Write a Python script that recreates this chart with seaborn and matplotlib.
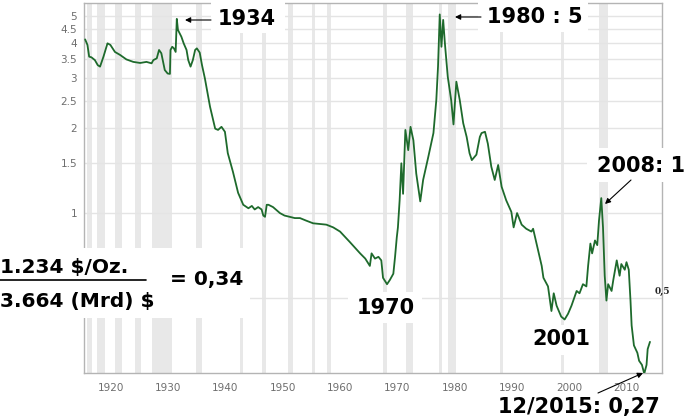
import matplotlib

matplotlib.use("Agg")

import matplotlib.pyplot as plt
import seaborn as sns
from matplotlib.patches import FancyArrowPatch, Rectangle
from matplotlib.ticker import FixedLocator, NullLocator

# gold price / money ratio
years = [
    1915.5, 1915.9, 1916.2, 1916.6, 1917.2, 1917.7, 1918.1, 1918.7, 1919.4, 1919.9,
    1920.7, 1921.6, 1922.7, 1923.9, 1925.1, 1926.2, 1927.1, 1927.4, 1928.0, 1928.4,
    1928.8, 1929.1, 1929.4, 1929.9, 1930.3, 1930.4, 1930.7, 1931.0, 1931.3, 1931.5,
    1931.7, 1932.3, 1932.7, 1933.2, 1933.5, 1933.9, 1934.3, 1934.7, 1935.0, 1935.5,
    1935.9, 1936.4, 1937.3, 1938.2, 1938.7, 1939.3, 1939.9, 1940.4, 1941.3, 1942.2,
    1943.1, 1944.0, 1944.6, 1945.1, 1945.7, 1946.3, 1946.6, 1946.9, 1947.2, 1947.5,
    1948.3, 1949.5, 1950.3, 1951.2, 1952.1, 1953.0, 1954.1, 1955.3, 1956.5, 1957.6,
    1958.8, 1960.0, 1961.7, 1963.5, 1964.4, 1965.2, 1965.5, 1966.1, 1966.7, 1967.2,
    1967.5, 1968.2, 1968.7, 1969.3, 1969.6, 1969.9, 1970.1, 1970.4, 1970.7, 1971.0,
    1971.4, 1971.9, 1972.3, 1972.8, 1973.3, 1974.0, 1974.5, 1975.4, 1976.3, 1976.8,
    1977.1, 1977.4, 1977.7, 1978.0, 1978.3, 1978.8, 1979.4, 1979.8, 1980.3, 1980.9,
    1981.5, 1982.1, 1982.6, 1983.0, 1983.8, 1984.4, 1984.7, 1985.3, 1985.8, 1986.4,
    1987.0, 1987.6, 1988.2, 1989.0, 1989.9, 1990.3, 1990.9, 1991.7, 1992.5, 1993.4,
    1993.7, 1994.3, 1995.2, 1995.5, 1996.3, 1996.9, 1997.3, 1997.8, 1998.6, 1999.2,
    1999.8, 2000.4, 2001.3, 2001.8, 2002.4, 2003.0, 2003.3, 2003.7, 2004.0, 2004.5,
    2004.9, 2005.2, 2005.6, 2005.9, 2006.2, 2006.5, 2006.8, 2007.4, 2007.7, 2008.3,
    2008.8, 2009.1, 2009.7, 2010.0, 2010.4, 2010.7, 2010.9, 2011.3, 2011.9, 2012.2,
    2012.7, 2013.1, 2013.5, 2013.7, 2014.1,
]
ratio = [
    4.12, 3.94, 3.58, 3.56, 3.48, 3.34, 3.30, 3.58, 3.99, 3.94,
    3.72, 3.63, 3.50, 3.43, 3.40, 3.43, 3.39, 3.48, 3.53, 3.78,
    3.68, 3.43, 3.21, 3.12, 3.11, 3.78, 3.88, 3.83, 3.72, 4.87,
    4.45, 4.21, 3.99, 3.78, 3.48, 3.30, 3.48, 3.78, 3.83, 3.70,
    3.34, 3.00, 2.38, 1.99, 1.97, 2.02, 1.94, 1.63, 1.40, 1.18,
    1.07, 1.04, 1.06, 1.03, 1.05, 1.03, 0.98, 0.97, 1.07, 1.07,
    1.05, 1.00, 0.98, 0.97, 0.96, 0.96, 0.94, 0.92, 0.915, 0.91,
    0.89, 0.86, 0.79, 0.72, 0.69, 0.65, 0.72, 0.69, 0.70, 0.68,
    0.59, 0.56, 0.58, 0.61, 0.70, 0.82, 0.89, 1.11, 1.50, 1.17,
    1.97, 1.67, 2.02, 1.81, 1.38, 1.10, 1.31, 1.58, 1.92, 2.51,
    3.30, 5.05, 3.88, 4.83, 3.99, 3.04, 2.51, 2.06, 2.92, 2.51,
    2.08, 1.86, 1.63, 1.54, 1.61, 1.86, 1.92, 1.94, 1.76, 1.46,
    1.31, 1.48, 1.24, 1.11, 1.01, 0.89, 1.00, 0.91, 0.88, 0.86,
    0.88, 0.78, 0.65, 0.59, 0.55, 0.45, 0.52, 0.47, 0.43, 0.42,
    0.44, 0.47, 0.53, 0.52, 0.56, 0.55, 0.65, 0.78, 0.72, 0.80,
    0.77, 0.94, 1.13, 0.89, 0.60, 0.49, 0.56, 0.53, 0.58, 0.68,
    0.60, 0.66, 0.63, 0.67, 0.63, 0.49, 0.40, 0.34, 0.32, 0.30,
    0.29, 0.27, 0.29, 0.33, 0.35,
]

# shaded periods (as drawn on the chart)
band_starts = [1915.8, 1917.6, 1920.7, 1924.2, 1927.2, 1934.8, 1942.5, 1946.4, 1950.9,
               1955.1, 1957.7, 1967.5, 1971.5, 1977.2, 1978.8, 1987.9, 1998.5, 2005.2]
band_ends = [1916.7, 1919.0, 1921.9, 1925.2, 1930.6, 1935.9, 1943.0, 1947.1, 1951.8,
             1955.6, 1958.4, 1968.2, 1972.7, 1977.8, 1980.2, 1988.4, 1999.1, 2006.7]

# the left 0.5 label sits under the formula box in the original
y_ticks = [0.5, 1, 1.5, 2, 2.5, 3, 3.5, 4, 4.5, 5]
y_tick_labels = ["", "1", "1.5", "2", "2.5", "3", "3.5", "4", "4.5", "5"]
x_ticks = [1920, 1930, 1940, 1950, 1960, 1970, 1980, 1990, 2000, 2010]

W, H = 687, 419


def fx(px):
    return px / W


def fy(py):
    return 1 - py / H


sns.set_theme(style="white")
plt.rcParams["font.family"] = ["DejaVu Sans"]

fig = plt.figure(figsize=(W / 100, H / 100), dpi=100)
ax = fig.add_axes([fx(84), fy(373), fx(662) - fx(84), fy(3.3) - fy(373)])

for start, end in zip(band_starts, band_ends):
    ax.axvspan(start, end, color="#e8e8e8", lw=0, zorder=0)

sns.lineplot(x=years, y=ratio, color="#1e6a2c", linewidth=1.3, ax=ax, zorder=3)

ax.set_yscale("log")
ax.set_ylim(0.2715, 5.53)
ax.set_xlim(1915.3, 2016.2)
ax.yaxis.set_major_locator(FixedLocator(y_ticks))
ax.yaxis.set_minor_locator(NullLocator())
ax.set_yticklabels(y_tick_labels)
ax.set_xticks(x_ticks)
ax.set_xticklabels([str(t) for t in x_ticks])
ax.tick_params(axis="both", length=0, labelsize=7.5, labelcolor="#6e6e6e")
ax.tick_params(axis="y", pad=5)
ax.tick_params(axis="x", pad=7)
ax.yaxis.grid(True, color="#e4e4e4", lw=1, zorder=1)
ax.xaxis.grid(False)
ax.set_axisbelow(True)
ax.set_xlabel("")
ax.set_ylabel("")
for side in ["left", "bottom", "right", "top"]:
    ax.spines[side].set_color("#b4b4b4")
    ax.spines[side].set_linewidth(1)

# white patches behind annotations
covers = [
    (0, 248, 250, 318),
    (211, 0, 285, 33),
    (478, 0, 588, 32),
    (587, 148, 687, 182),
    (528, 325, 594, 355),
    (348, 292, 422, 323),
]
for x0, y0, x1, y1 in covers:
    fig.add_artist(Rectangle((fx(x0), fy(y1)), fx(x1) - fx(x0), fy(y0) - fy(y1),
                             transform=fig.transFigure, fc="white", ec="none", zorder=4))

bold = dict(fontweight="bold", color="black", va="center", zorder=5)
fig.text(fx(247), fy(19), "1934", fontsize=15, ha="center", **bold)
fig.text(fx(535), fy(17), "1980 : 5", fontsize=15, ha="center", **bold)
fig.text(fx(641), fy(166), "2008: 1", fontsize=15, ha="center", **bold)
fig.text(fx(561), fy(339), "2001", fontsize=15, ha="center", **bold)
fig.text(fx(386), fy(308), "1970", fontsize=15, ha="center", **bold)
fig.text(fx(579), fy(407), "12/2015: 0,27", fontsize=15, ha="center", **bold)

fig.text(fx(0), fy(267), "1.234 $/Oz.", fontsize=14.5, ha="left", **bold)
fig.text(fx(0), fy(302), "3.664 (Mrd) $", fontsize=14.5, ha="left", **bold)
fig.text(fx(207), fy(280), "= 0,34", fontsize=14.5, ha="center", **bold)
fig.add_artist(plt.Line2D([fx(0), fx(146)], [fy(280), fy(280)], transform=fig.transFigure,
                          color="black", lw=1.2, zorder=5))

fig.text(fx(662), fy(291), "0,5", fontsize=6.5, family="DejaVu Serif", fontweight="bold",
         ha="center", va="center", zorder=5)

arrows = [
    ((211, 20), (185, 20)),
    ((481, 17), (455, 17)),
    ((631, 180), (605, 204)),
    ((598, 393), (643, 373)),
]
for (x0, y0), (x1, y1) in arrows:
    fig.add_artist(FancyArrowPatch((fx(x0), fy(y0)), (fx(x1), fy(y1)), transform=fig.transFigure,
                                   arrowstyle="-|>", mutation_scale=8, lw=0.8, color="black",
                                   shrinkA=0, shrinkB=0, zorder=6))

fig.savefig("out.png", dpi=100)
